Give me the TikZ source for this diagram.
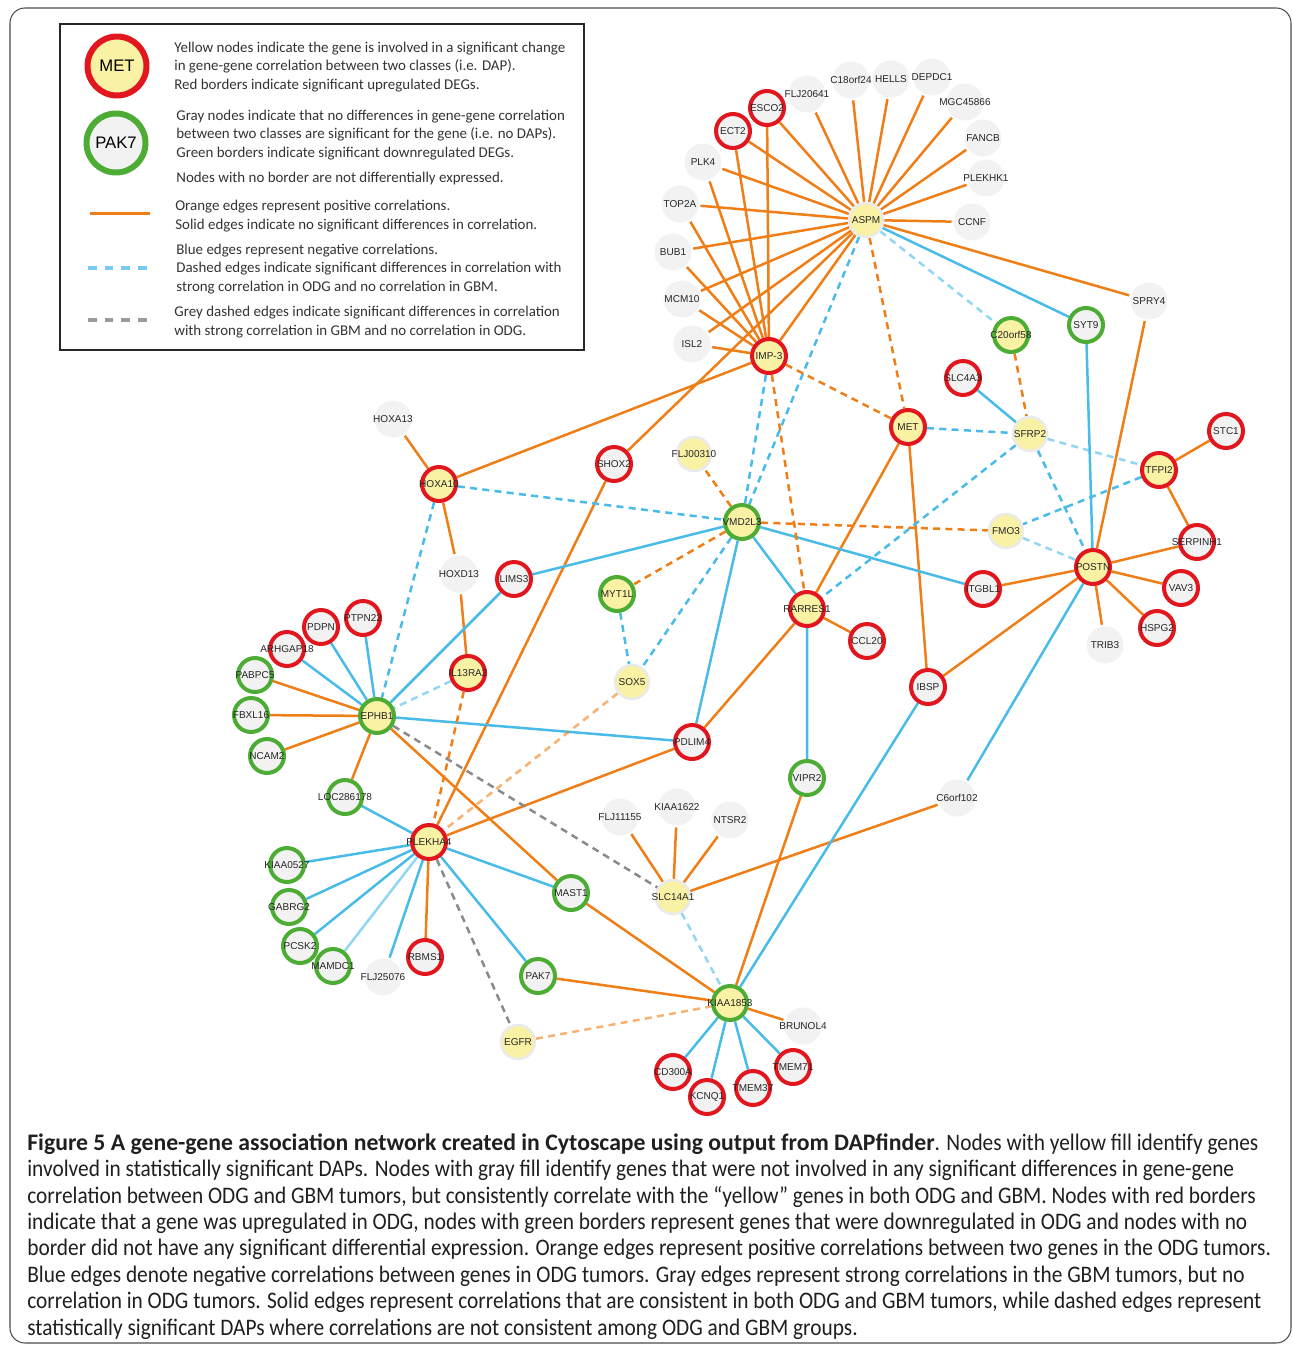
\documentclass[tikz,border=0pt]{standalone}
\usepackage{fontspec}
\setmainfont{Carlito}
\setsansfont{Liberation Sans}
\newfontfamily\capfont[FakeStretch=0.9]{Carlito}
\newfontfamily\capboldfont{Carlito}

\definecolor{upred}{RGB}{226,22,30}
\definecolor{downgreen}{RGB}{76,172,52}
\definecolor{dapyellow}{RGB}{249,241,163}
\definecolor{nodapgray}{RGB}{242,242,242}
\definecolor{ringgray}{RGB}{234,234,234}
\definecolor{corange}{RGB}{239,126,22}
\definecolor{cblue}{RGB}{72,187,233}
\definecolor{cgray}{RGB}{138,138,138}

\pgfdeclarelayer{edges}
\pgfsetlayers{edges,main}

\begin{document}
\begin{tikzpicture}[
        x=0.02cm, y=-0.02cm,
        gene/.style={circle, minimum size=0.68cm, inner sep=0pt, line width=0.08cm},
        upreg/.style={draw=upred},
        downreg/.style={draw=downgreen},
        nodeg/.style={draw=ringgray, line width=0.05cm},
        dap/.style={fill=dapyellow},
        nodap/.style={fill=nodapgray},
        every label/.style={font=\sffamily\fontsize{5.7}{6}\selectfont, inner sep=0pt, text=black!85},
        poscor/.style={draw=corange, line width=0.05cm},
        negcor/.style={draw=cblue, line width=0.05cm},
        posdiff/.style={draw=corange, line width=0.05cm, dash pattern=on 4pt off 3pt},
        negdiff/.style={draw=cblue, line width=0.05cm, dash pattern=on 4pt off 3pt},
        gbmdiff/.style={draw=cgray, line width=0.05cm, dash pattern=on 4pt off 3pt},
        pale/.style={draw opacity=0.6},
        legtext/.style={anchor=west, align=left, inner sep=0pt, text=black!80,
            font=\fontsize{8.5}{10.5}\selectfont}
    ]
    \useasboundingbox (0,0) rectangle (1293,1345);

    % frame and legend
    \draw[black!70, line width=0.6pt, rounded corners=0.3cm] (10,1343) rectangle (1291,8);
    \draw[black!85, line width=0.8pt] (60,24) rectangle (584,350);

    \node[circle, minimum size=1.18cm, line width=0.12cm, draw=upred, fill=dapyellow,
        font=\sffamily\fontsize{9.5}{10}\selectfont] (legmet) at (117,66) {MET};
    \node[circle, minimum size=1.18cm, line width=0.12cm, draw=downgreen, fill=nodapgray,
        font=\sffamily\fontsize{9.5}{10}\selectfont] (legpak7) at (116,143) {PAK7};
    \draw[corange, line width=0.06cm] (90,213) -- (150,213);
    \draw[cblue!75, line width=0.07cm, dash pattern=on 5pt off 4.5pt] (88,268) -- (152,268);
    \draw[cgray!85, line width=0.07cm, dash pattern=on 5pt off 4.5pt] (88,320) -- (152,320);

    \node[legtext] (legyellow) at (174,67)
        {Yellow nodes indicate the gene is involved in a significant change\\in gene-gene correlation between two classes (i.e. DAP).\\Red borders indicate significant upregulated DEGs.};
    \node[legtext] (leggray) at (176,135)
        {Gray nodes indicate that no differences in gene-gene correlation\\between two classes are significant for the gene (i.e. no DAPs).\\Green borders indicate significant downregulated DEGs.};
    \node[legtext] (legnone) at (176,179)
        {Nodes with no border are not differentially expressed.};
    \node[legtext] (legorange) at (175,216)
        {Orange edges represent positive correlations.\\Solid edges indicate no significant differences in correlation.};
    \node[legtext] (legblue) at (176,269)
        {Blue edges represent negative correlations.\\Dashed edges indicate significant differences in correlation with\\strong correlation in ODG and no correlation in GBM.};
    \node[legtext] (leggrey) at (174,322)
        {Grey dashed edges indicate significant differences in correlation\\with strong correlation in GBM and no correlation in ODG.};

    % yellow fill, red border
    \node[gene, dap, upreg, label=center:MET] (met) at (908,427) {};
    \node[gene, dap, upreg, label=center:IMP-3] (imp3) at (769,356) {};
    \node[gene, dap, upreg, label=center:HOXA10] (hoxa10) at (439,484) {};
    \node[gene, dap, upreg, label=center:TFPI2] (tfpi2) at (1159,470) {};
    \node[gene, dap, upreg, label=center:POSTN] (postn) at (1093,567) {};
    \node[gene, dap, upreg, label=center:RARRES1] (rarres1) at (807,609) {};
    \node[gene, dap, upreg, label=center:IL13RA2] (il13ra2) at (468,673) {};
    \node[gene, dap, upreg, label=center:PLEKHA4] (plekha4) at (429,842) {};

    % yellow fill, green border
    \node[gene, dap, downreg, label=center:C20orf58] (c20orf58) at (1011,335) {};
    \node[gene, dap, downreg, label=center:VMD2L3] (vmd2l3) at (742,522) {};
    \node[gene, dap, downreg, label=center:MYT1L] (myt1l) at (617,594) {};
    \node[gene, dap, downreg, label=center:EPHB1] (ephb1) at (377,716) {};
    \node[gene, dap, downreg, label=center:KIAA1853] (kiaa1853) at (730,1003) {};

    % yellow fill, no border
    \node[gene, dap, nodeg, label=center:ASPM] (aspm) at (866,220) {};
    \node[gene, dap, nodeg, label=center:SFRP2] (sfrp2) at (1030,434) {};
    \node[gene, dap, nodeg, label=center:FMO3] (fmo3) at (1006,531) {};
    \node[gene, dap, nodeg, label=center:FLJ00310] (flj00310) at (694,454) {};
    \node[gene, dap, nodeg, label=center:SOX5] (sox5) at (632,682) {};
    \node[gene, dap, nodeg, label=center:SLC14A1] (slc14a1) at (673,897) {};
    \node[gene, dap, nodeg, label=center:EGFR] (egfr) at (518,1042) {};

    % gray fill, red border
    \node[gene, nodap, upreg, label=center:ESCO2] (esco2) at (767,108) {};
    \node[gene, nodap, upreg, label=center:ECT2] (ect2) at (733,131) {};
    \node[gene, nodap, upreg, label=center:SLC4A3] (slc4a3) at (963,378) {};
    \node[gene, nodap, upreg, label=center:STC1] (stc1) at (1226,431) {};
    \node[gene, nodap, upreg, label=center:SERPINH1] (serpinh1) at (1197,542) {};
    \node[gene, nodap, upreg, label=center:ITGBL1] (itgbl1) at (983,589) {};
    \node[gene, nodap, upreg, label=center:VAV3] (vav3) at (1181,588) {};
    \node[gene, nodap, upreg, label=center:HSPG2] (hspg2) at (1157,628) {};
    \node[gene, nodap, upreg, label=center:SHOX2] (shox2) at (614,464) {};
    \node[gene, nodap, upreg, label=center:LIMS3] (lims3) at (514,579) {};
    \node[gene, nodap, upreg, label=center:PTPN22] (ptpn22) at (363,618) {};
    \node[gene, nodap, upreg, label=center:PDPN] (pdpn) at (321,627) {};
    \node[gene, nodap, upreg, label=center:ARHGAP18] (arhgap18) at (287,649) {};
    \node[gene, nodap, upreg, label=center:CCL20] (ccl20) at (867,641) {};
    \node[gene, nodap, upreg, label=center:PDLIM4] (pdlim4) at (692,742) {};
    \node[gene, nodap, upreg, label=center:IBSP] (ibsp) at (928,687) {};
    \node[gene, nodap, upreg, label=center:RBMS1] (rbms1) at (425,957) {};
    \node[gene, nodap, upreg, label=center:CD300A] (cd300a) at (673,1072) {};
    \node[gene, nodap, upreg, label=center:KCNQ1] (kcnq1) at (707,1097) {};
    \node[gene, nodap, upreg, label=center:TMEM37] (tmem37) at (753,1088) {};
    \node[gene, nodap, upreg, label=center:TMEM71] (tmem71) at (793,1067) {};

    % gray fill, green border
    \node[gene, nodap, downreg, label=center:SYT9] (syt9) at (1086,325) {};
    \node[gene, nodap, downreg, label=center:PABPC5] (pabpc5) at (255,675) {};
    \node[gene, nodap, downreg, label=center:FBXL16] (fbxl16) at (251,715) {};
    \node[gene, nodap, downreg, label=center:NCAM2] (ncam2) at (267,756) {};
    \node[gene, nodap, downreg, label=center:LOC286178] (loc286178) at (345,797) {};
    \node[gene, nodap, downreg, label=center:KIAA0527] (kiaa0527) at (287,865) {};
    \node[gene, nodap, downreg, label=center:GABRG2] (gabrg2) at (289,907) {};
    \node[gene, nodap, downreg, label=center:PCSK2] (pcsk2) at (300,946) {};
    \node[gene, nodap, downreg, label=center:MAMDC1] (mamdc1) at (333,966) {};
    \node[gene, nodap, downreg, label=center:MAST1] (mast1) at (571,893) {};
    \node[gene, nodap, downreg, label=center:PAK7] (pak7) at (538,976) {};
    \node[gene, nodap, downreg, label=center:VIPR2] (vipr2) at (807,778) {};

    % gray fill, no border
    \node[gene, nodap, minimum size=0.74cm, label=center:FLJ20641] (flj20641) at (807,94) {};
    \node[gene, nodap, minimum size=0.74cm, label=center:C18orf24] (c18orf24) at (851,80) {};
    \node[gene, nodap, minimum size=0.74cm, label=center:HELLS] (hells) at (891,79) {};
    \node[gene, nodap, minimum size=0.74cm, label=center:DEPDC1] (depdc1) at (932,77) {};
    \node[gene, nodap, minimum size=0.74cm, label=center:MGC45866] (mgc45866) at (965,102) {};
    \node[gene, nodap, minimum size=0.74cm, label=center:FANCB] (fancb) at (983,138) {};
    \node[gene, nodap, minimum size=0.74cm, label=center:PLEKHK1] (plekhk1) at (986,178) {};
    \node[gene, nodap, minimum size=0.74cm, label=center:CCNF] (ccnf) at (972,222) {};
    \node[gene, nodap, minimum size=0.74cm, label=center:PLK4] (plk4) at (703,162) {};
    \node[gene, nodap, minimum size=0.74cm, label=center:TOP2A] (top2a) at (680,204) {};
    \node[gene, nodap, minimum size=0.74cm, label=center:BUB1] (bub1) at (673,252) {};
    \node[gene, nodap, minimum size=0.74cm, label=center:MCM10] (mcm10) at (682,299) {};
    \node[gene, nodap, minimum size=0.74cm, label=center:ISL2] (isl2) at (692,344) {};
    \node[gene, nodap, minimum size=0.74cm, label=center:SPRY4] (spry4) at (1149,301) {};
    \node[gene, nodap, minimum size=0.74cm, label=center:TRIB3] (trib3) at (1105,645) {};
    \node[gene, nodap, minimum size=0.74cm, label=center:HOXA13] (hoxa13) at (393,419) {};
    \node[gene, nodap, minimum size=0.74cm, label=center:HOXD13] (hoxd13) at (459,574) {};
    \node[gene, nodap, minimum size=0.74cm, label=center:FLJ11155] (flj11155) at (620,817) {};
    \node[gene, nodap, minimum size=0.74cm, label=center:KIAA1622] (kiaa1622) at (677,807) {};
    \node[gene, nodap, minimum size=0.74cm, label=center:NTSR2] (ntsr2) at (730,820) {};
    \node[gene, nodap, minimum size=0.74cm, label=center:FLJ25076] (flj25076) at (383,977) {};
    \node[gene, nodap, minimum size=0.74cm, label=center:BRUNOL4] (brunol4) at (803,1026) {};
    \node[gene, nodap, minimum size=0.74cm, label=center:C6orf102] (c6orf102) at (957,798) {};

    \begin{pgfonlayer}{edges}
    % positive, consistent
    \draw[poscor] (aspm) -- (esco2) (aspm) -- (flj20641) (aspm) -- (c18orf24) (aspm) -- (hells)
        (aspm) -- (depdc1) (aspm) -- (mgc45866) (aspm) -- (fancb) (aspm) -- (plekhk1)
        (aspm) -- (ccnf) (aspm) -- (ect2) (aspm) -- (plk4) (aspm) -- (top2a) (aspm) -- (bub1)
        (aspm) -- (mcm10) (aspm) -- (isl2) (aspm) -- (imp3) (aspm) -- (spry4) (aspm) -- (shox2);
    \draw[poscor] (imp3) -- (esco2) (imp3) -- (ect2) (imp3) -- (plk4) (imp3) -- (top2a)
        (imp3) -- (bub1) (imp3) -- (mcm10) (imp3) -- (isl2) (imp3) -- (hoxa10);
    \draw[poscor] (spry4) -- (postn) (tfpi2) -- (stc1) (tfpi2) -- (serpinh1) (postn) -- (serpinh1)
        (postn) -- (vav3) (postn) -- (hspg2) (postn) -- (trib3) (postn) -- (itgbl1) (postn) -- (ibsp);
    \draw[poscor] (met) -- (rarres1) (met) -- (ibsp) (rarres1) -- (ccl20) (rarres1) -- (pdlim4);
    \draw[poscor] (hoxa10) -- (hoxa13) (hoxa10) -- (hoxd13) (hoxd13) -- (il13ra2) (shox2) -- (plekha4);
    \draw[poscor] (ephb1) -- (pabpc5) (ephb1) -- (fbxl16) (ephb1) -- (ncam2) (ephb1) -- (loc286178)
        (ephb1) -- (mast1) (plekha4) -- (rbms1) (plekha4) -- (pdlim4);
    \draw[poscor] (mast1) -- (kiaa1853) (pak7) -- (kiaa1853) (vipr2) -- (kiaa1853) (brunol4) -- (kiaa1853);
    \draw[poscor] (slc14a1) -- (flj11155) (slc14a1) -- (kiaa1622) (slc14a1) -- (ntsr2) (slc14a1) -- (c6orf102);

    % negative, consistent
    \draw[negcor] (aspm) -- (syt9) (syt9) -- (postn) (slc4a3) -- (sfrp2) (postn) -- (c6orf102)
        (ibsp) -- (kiaa1853);
    \draw[negcor] (vmd2l3) -- (itgbl1) (vmd2l3) -- (rarres1) (vmd2l3) -- (lims3) (vmd2l3) -- (pdlim4)
        (rarres1) -- (vipr2) (lims3) -- (ephb1);
    \draw[negcor] (ephb1) -- (ptpn22) (ephb1) -- (pdpn) (ephb1) -- (arhgap18) (ephb1) -- (pdlim4);
    \draw[negcor] (plekha4) -- (loc286178) (plekha4) -- (kiaa0527) (plekha4) -- (gabrg2)
        (plekha4) -- (pcsk2) (plekha4) -- (flj25076) (plekha4) -- (pak7) (plekha4) -- (mast1);
    \draw[negcor, pale] (plekha4) -- (mamdc1);
    \draw[negcor] (kiaa1853) -- (cd300a) (kiaa1853) -- (kcnq1) (kiaa1853) -- (tmem37) (kiaa1853) -- (tmem71);

    % significant differences, strong in ODG
    \draw[negdiff] (aspm) -- (vmd2l3) (imp3) -- (vmd2l3) (met) -- (sfrp2) (sfrp2) -- (postn)
        (sfrp2) -- (rarres1) (tfpi2) -- (fmo3) (hoxa10) -- (vmd2l3) (hoxa10) -- (ephb1)
        (vmd2l3) -- (sox5) (myt1l) -- (sox5);
    \draw[negdiff, pale] (aspm) -- (c20orf58) (sfrp2) -- (tfpi2) (fmo3) -- (postn)
        (il13ra2) -- (ephb1) (slc14a1) -- (kiaa1853);
    \draw[posdiff] (aspm) -- (met) (imp3) -- (met) (imp3) -- (rarres1) (c20orf58) -- (sfrp2)
        (vmd2l3) -- (fmo3) (vmd2l3) -- (flj00310) (vmd2l3) -- (myt1l) (il13ra2) -- (plekha4);
    \draw[posdiff, pale] (sox5) -- (plekha4) (egfr) -- (kiaa1853);

    % significant differences, strong in GBM
    \draw[gbmdiff] (ephb1) -- (slc14a1) (plekha4) -- (egfr);
    \end{pgfonlayer}

    % caption
    \node[anchor=base west, align=left, inner sep=0pt, text=black!88,
        font=\capfont\fontsize{13.5}{15}\selectfont] (caption) at (27,1335)
        {{\capboldfont\bfseries Figure 5 A gene-gene association network created in Cytoscape using output from DAPfinder}. Nodes with yellow fill identify genes\\
        involved in statistically significant DAPs. Nodes with gray fill identify genes that were not involved in any significant differences in gene-gene\\
        correlation between ODG and GBM tumors, but consistently correlate with the “yellow” genes in both ODG and GBM. Nodes with red borders\\
        indicate that a gene was upregulated in ODG, nodes with green borders represent genes that were downregulated in ODG and nodes with no\\
        border did not have any significant differential expression. Orange edges represent positive correlations between two genes in the ODG tumors.\\
        Blue edges denote negative correlations between genes in ODG tumors. Gray edges represent strong correlations in the GBM tumors, but no\\
        correlation in ODG tumors. Solid edges represent correlations that are consistent in both ODG and GBM tumors, while dashed edges represent\\
        statistically significant DAPs where correlations are not consistent among ODG and GBM groups.};
\end{tikzpicture}
\end{document}
